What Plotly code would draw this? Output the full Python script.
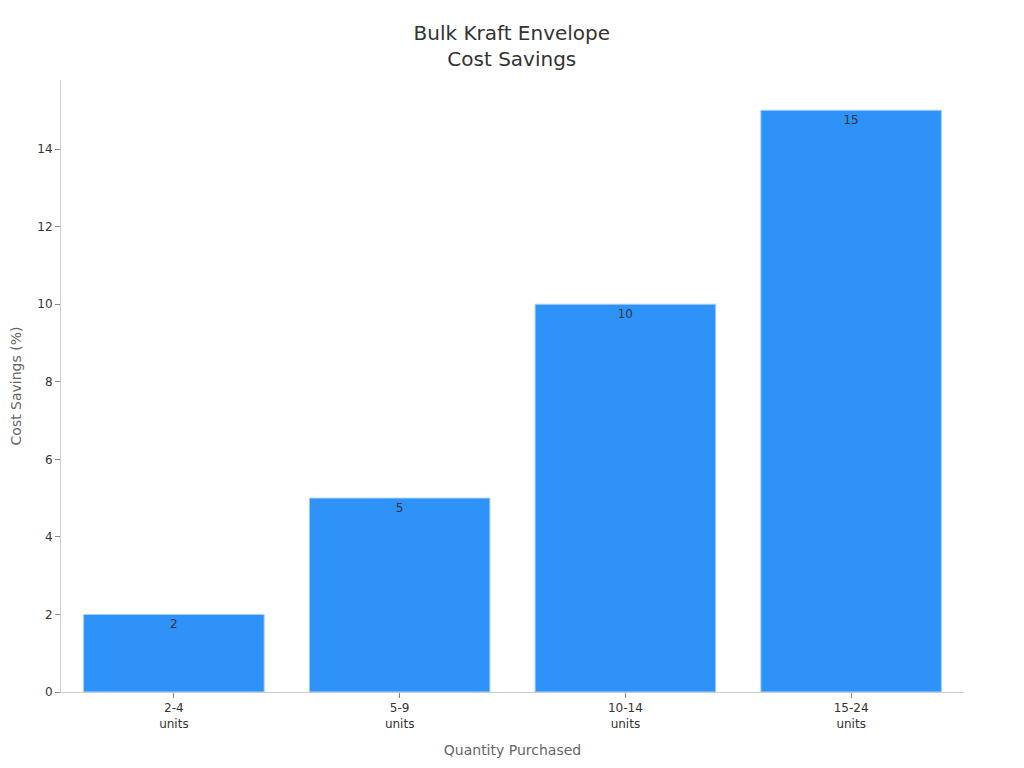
import plotly.graph_objects as go

categories = ["2-4<br>units", "5-9<br>units", "10-14<br>units", "15-24<br>units"]
savings = [2, 5, 10, 15]
y_ticks = [0, 2, 4, 6, 8, 10, 12, 14]

fig = go.Figure(
    go.Bar(
        x=categories,
        y=savings,
        text=[str(v) for v in savings],
        textposition="inside",
        insidetextanchor="end",
        textfont=dict(color="#333333", size=12),
        marker=dict(color="#2f92f8", line=dict(color="#a8d0fb", width=1)),
        hoverinfo="x+y",
    )
)

fig.update_layout(
    width=1024,
    height=768,
    paper_bgcolor="white",
    plot_bgcolor="white",
    font=dict(family="DejaVu Sans", size=12, color="#333333"),
    title=dict(
        text="Bulk Kraft Envelope<br>Cost Savings",
        x=0.492,
        xanchor="center",
        y=0.958,
        yanchor="top",
        font=dict(size=20, color="#333333"),
    ),
    margin=dict(l=53, r=68, t=72, b=84),
    bargap=0.2,
    showlegend=False,
)

fig.update_xaxes(
    title=dict(text="Quantity Purchased", font=dict(size=14, color="#666666")),
    showline=True,
    linecolor="#cccccc",
    ticks="outside",
    tickcolor="#888888",
    ticklen=5,
    showgrid=False,
    automargin=False,
)
fig.update_yaxes(
    title=dict(text="Cost Savings (%)", font=dict(size=14, color="#666666"), standoff=12),
    range=[0, 15.78],
    tickvals=y_ticks,
    showline=True,
    linecolor="#cccccc",
    ticks="outside",
    tickcolor="#888888",
    ticklen=5,
    showgrid=False,
    zeroline=False,
    automargin=False,
)

fig.write_html("out.html")
